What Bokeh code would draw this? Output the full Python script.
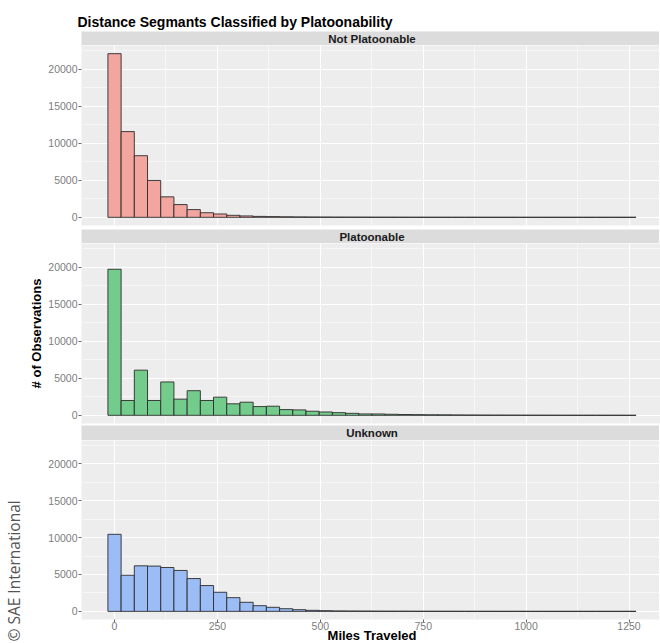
from bokeh.plotting import figure
from bokeh.layouts import column, row
from bokeh.models import FixedTicker, Label, Range1d, ColumnDataSource
from bokeh.embed import file_html
from bokeh.resources import INLINE

# ---------------- data ----------------
TITLE = "Distance Segmants Classified by Platoonability"
FACETS = ["Not Platoonable", "Platoonable", "Unknown"]
X_LABEL = "Miles Traveled"
Y_LABEL = "# of Observations"
CREDIT = "\u00a9 SAE International"

BIN_CENTERS = [0.0, 32.1, 64.2, 96.2, 128.3, 160.4, 192.5, 224.6, 256.6, 288.7,
               320.8, 352.9, 385.0, 417.0, 449.1, 481.2, 513.3, 545.4, 577.4, 609.5,
               641.6, 673.7, 705.8, 737.8, 769.9, 802.0, 834.1, 866.2, 898.2, 930.3,
               962.4, 994.5, 1026.6, 1058.6, 1090.7, 1122.8, 1154.9, 1187.0, 1219.0, 1251.1]
BIN_WIDTH = 32.08

NOT_PLATOONABLE = [22070, 11560, 8310, 4970, 2760, 1720, 1040, 620, 450, 270,
                   185, 125, 95, 72, 55, 42, 33, 27, 22, 18,
                   15, 12, 10, 8, 7, 6, 5, 4, 4, 3,
                   3, 2, 2, 2, 1, 1, 1, 1, 1, 1]
PLATOONABLE = [19700, 2000, 6090, 2000, 4500, 2180, 3320, 2000, 2450, 1550,
               1770, 1180, 1230, 770, 730, 550, 450, 360, 270, 190,
               180, 140, 110, 90, 70, 60, 50, 40, 32, 26,
               20, 16, 12, 10, 8, 6, 5, 4, 3, 2]
UNKNOWN = [10450, 4900, 6180, 6140, 5950, 5550, 4450, 3500, 2590, 1860,
           1230, 770, 550, 360, 230, 140, 90, 62, 46, 35,
           28, 22, 18, 15, 12, 10, 8, 6, 5, 4,
           3, 3, 2, 2, 2, 1, 1, 1, 1, 1]
SERIES = [NOT_PLATOONABLE, PLATOONABLE, UNKNOWN]

X_TICKS = [0, 250, 500, 750, 1000, 1250]
X_MINOR = [125, 375, 625, 875, 1125]
Y_TICKS = [0, 5000, 10000, 15000, 20000]
Y_MINOR = [2500, 7500, 12500, 17500, 22500]

# ---------------- style ----------------
FILLS = ["#F3A59F", "#74CC8C", "#9BBCF5"]
PANEL_BG = "#EDEDED"
STRIP_BG = "#DCDCDC"
FONT = "Liberation Sans"
FRAME_W = 581
CREDIT_W = 26
LEFT = 52
TOTAL_H = 643

x_lo = BIN_CENTERS[0] - BIN_WIDTH / 2
x_hi = BIN_CENTERS[-1] + BIN_WIDTH / 2
x_pad = 0.05 * (x_hi - x_lo)
xr = Range1d(x_lo - x_pad, x_hi + x_pad)
y_max = max(max(s) for s in SERIES)
yr = Range1d(-0.05 * y_max, 1.05 * y_max)


def base_fig(frame_h, top, bottom, x_axis=None, y_axis=None, y_range=None, bg=PANEL_BG):
    p = figure(frame_width=FRAME_W, frame_height=frame_h, x_range=xr,
               y_range=y_range if y_range is not None else yr,
               x_axis_location=x_axis, y_axis_location=y_axis,
               output_backend="svg", toolbar_location=None,
               min_border_left=LEFT, min_border_right=0,
               min_border_top=top, min_border_bottom=bottom,
               background_fill_color=bg, border_fill_color="white",
               outline_line_color=None)
    return p


def strip_fig(text, top, frame_h):
    s = base_fig(frame_h, top, 0, y_range=Range1d(0, 1), bg=STRIP_BG)
    s.grid.visible = False
    s.add_layout(Label(x=(xr.start + xr.end) / 2, y=0.5, text=text,
                       text_align="center", text_baseline="middle",
                       text_font=FONT, text_font_style="bold",
                       text_font_size="11.5px", text_color="#1A1A1A"))
    return s


def panel_fig(counts, fill, frame_h, bottom, with_x_axis=False, y_label=None):
    p = base_fig(frame_h, 0, bottom, x_axis="below" if with_x_axis else None, y_axis="left")
    xt = FixedTicker(ticks=X_TICKS, minor_ticks=X_MINOR)
    yt = FixedTicker(ticks=Y_TICKS, minor_ticks=Y_MINOR)
    for g, t in ((p.xgrid, xt), (p.ygrid, yt)):
        g.ticker = t
        g.grid_line_color = "white"
        g.grid_line_width = 1.1
        g.minor_grid_line_color = "white"
        g.minor_grid_line_width = 0.5
    axes = list(p.yaxis) + (list(p.xaxis) if with_x_axis else [])
    for ax in axes:
        ax.axis_line_color = None
        ax.major_tick_line_color = "#6a6a6a"
        ax.major_tick_out = 3
        ax.major_tick_in = 0
        ax.minor_tick_out = 0
        ax.minor_tick_in = 0
        ax.major_label_text_font = FONT
        ax.major_label_text_font_size = "10.5px"
        ax.major_label_text_color = "#7d7d7d"
        ax.major_label_standoff = 1
    p.yaxis.ticker = yt
    if with_x_axis:
        p.xaxis.ticker = xt
        p.xaxis.major_label_standoff = -1
        p.xaxis.axis_label = X_LABEL
        p.xaxis.axis_label_text_font = FONT
        p.xaxis.axis_label_text_font_style = "bold"
        p.xaxis.axis_label_text_font_size = "13px"
        p.xaxis.axis_label_text_color = "black"
        p.xaxis.axis_label_standoff = -5
    if y_label:
        p.yaxis.axis_label = y_label
        p.yaxis.axis_label_text_font = FONT
        p.yaxis.axis_label_text_font_style = "bold"
        p.yaxis.axis_label_text_font_size = "13px"
        p.yaxis.axis_label_text_color = "black"
        p.yaxis.axis_label_standoff = 1
    src = ColumnDataSource(dict(x=BIN_CENTERS, top=counts))
    p.vbar(x="x", top="top", bottom=0, width=BIN_WIDTH, source=src,
           fill_color=fill, line_color="#2b2b2b", line_width=0.9)
    return p


s1 = strip_fig(FACETS[0], 31, 14)
s1.title.text = TITLE
s1.title.text_font = FONT
s1.title.text_font_size = "14px"
s1.title.text_font_style = "bold"
s1.title.text_color = "black"
s1.title.align = "left"
s1.title.standoff = 3
s1.title.offset = -4

p1 = panel_fig(SERIES[0], FILLS[0], 180, 4)
s2 = strip_fig(FACETS[1], 0, 14)
p2 = panel_fig(SERIES[1], FILLS[1], 180, 2, y_label=Y_LABEL)
s3 = strip_fig(FACETS[2], 0, 15)
p3 = panel_fig(SERIES[2], FILLS[2], 179, 24, with_x_axis=True)

# narrow left strip carrying the rotated credit line
credit = figure(width=CREDIT_W, height=TOTAL_H, x_range=Range1d(0, 1), y_range=Range1d(0, 1),
                x_axis_location=None, y_axis_location=None,
                output_backend="svg", toolbar_location=None,
                min_border=0, background_fill_color="white", border_fill_color="white",
                outline_line_color=None)
credit.grid.visible = False
credit.add_layout(Label(x=13, y=2, x_units="screen", y_units="screen",
                        text=CREDIT, angle=90, angle_units="deg",
                        text_align="left", text_baseline="middle",
                        text_font="Open Sans", text_font_size="15.5px",
                        text_color="#555555"))

layout = row(credit, column(s1, p1, s2, p2, s3, p3))
open("out.html", "w").write(file_html(layout, INLINE))
